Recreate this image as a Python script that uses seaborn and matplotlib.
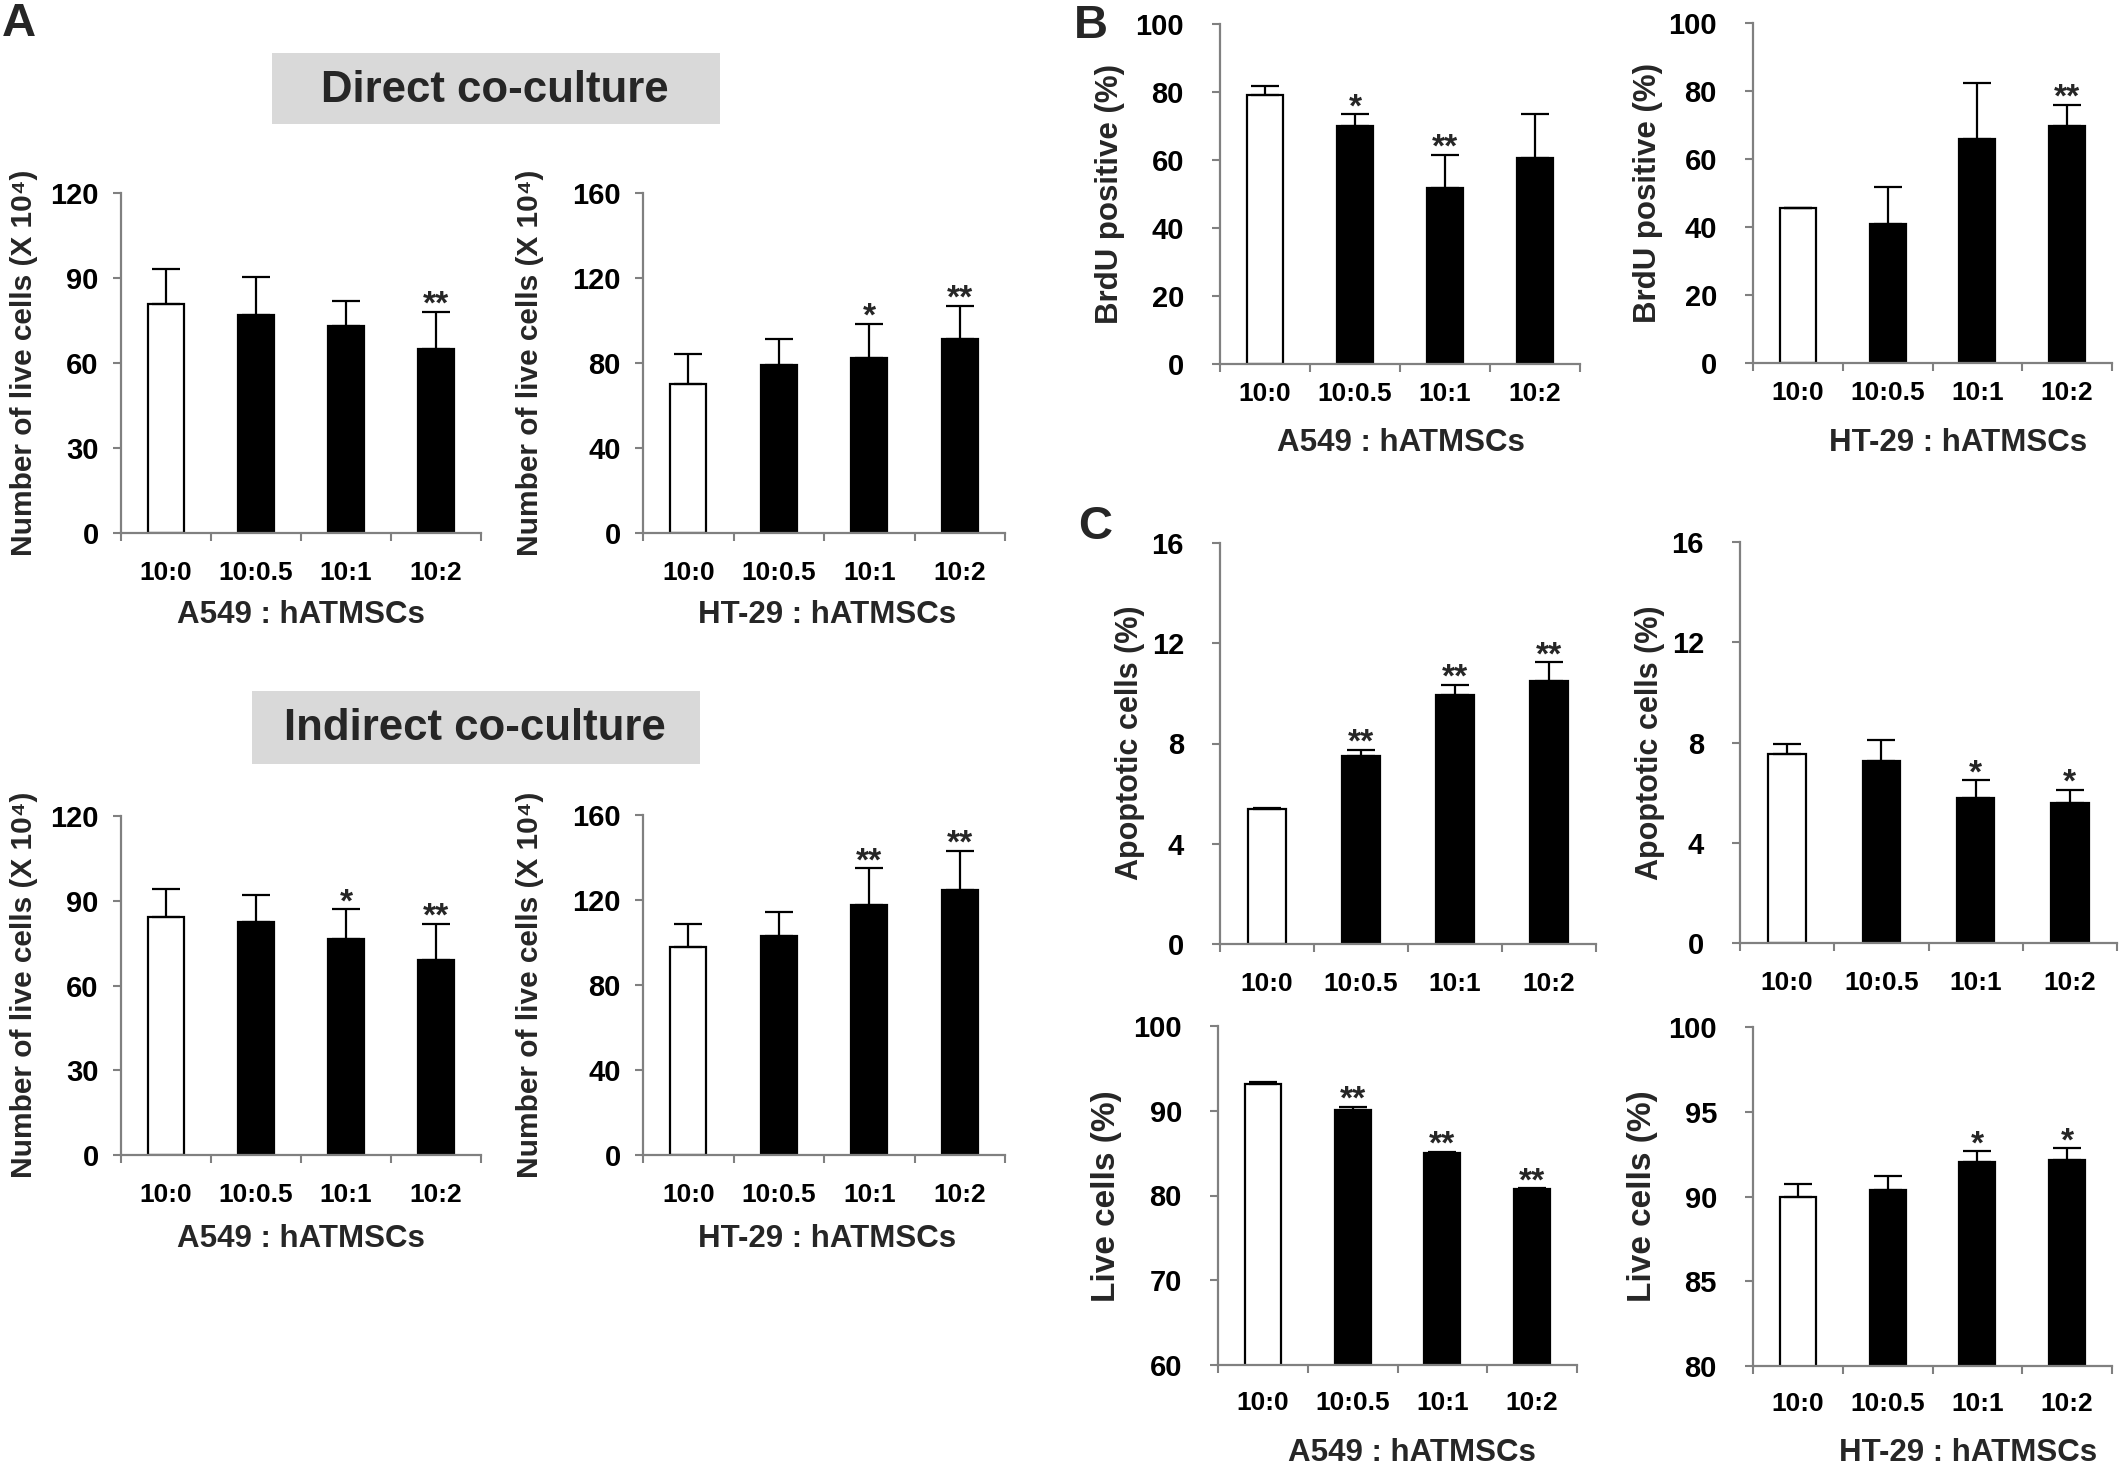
import numpy as np
import pandas as pd
import matplotlib
matplotlib.use("Agg")
import matplotlib.pyplot as plt
import seaborn as sns
from matplotlib import font_manager
from matplotlib.patches import Rectangle

# ---------------- data ----------------
ratios = ["10:0", "10:0.5", "10:1", "10:2"]

direct_a549 = [80.8, 76.9, 73.0, 64.9]
direct_a549_err = [12.3, 13.3, 8.8, 13.2]
direct_a549_sig = ["", "", "", "**"]

direct_ht29 = [70.2, 79.2, 82.5, 91.3]
direct_ht29_err = [14.2, 12.0, 16.0, 15.6]
direct_ht29_sig = ["", "", "*", "**"]

indirect_a549 = [84.4, 82.6, 76.5, 69.2]
indirect_a549_err = [9.6, 9.6, 10.5, 12.7]
indirect_a549_sig = ["", "", "*", "**"]

indirect_ht29 = [97.8, 103.2, 117.8, 124.7]
indirect_ht29_err = [11.0, 11.0, 17.2, 18.4]
indirect_ht29_sig = ["", "", "**", "**"]

brdu_a549 = [79.0, 70.1, 51.8, 60.5]
brdu_a549_err = [2.7, 3.4, 9.7, 13.1]
brdu_a549_sig = ["", "*", "**", ""]

brdu_ht29 = [45.6, 40.8, 65.9, 69.7]
brdu_ht29_err = [0.0, 10.9, 16.4, 6.3]
brdu_ht29_sig = ["", "", "", "**"]

apop_a549 = [5.38, 7.49, 9.95, 10.51]
apop_a549_err = [0.06, 0.27, 0.39, 0.73]
apop_a549_sig = ["", "**", "**", "**"]

apop_ht29 = [7.54, 7.26, 5.78, 5.59]
apop_ht29_err = [0.39, 0.85, 0.71, 0.52]
apop_ht29_sig = ["", "", "*", "*"]

live_a549 = [93.2, 90.14, 85.03, 80.75]
live_a549_err = [0.16, 0.31, 0.16, 0.11]
live_a549_sig = ["", "**", "**", "**"]

live_ht29 = [89.97, 90.38, 92.05, 92.13]
live_ht29_err = [0.79, 0.81, 0.63, 0.71]
live_ht29_sig = ["", "", "*", "*"]

# ---------------- style ----------------
sns.set_theme(style="white")
plt.rcParams["font.family"] = ["Liberation Sans", "DejaVu Sans"]
plt.rcParams["font.weight"] = "bold"

names = {f.name for f in font_manager.fontManager.ttflist}
if "Liberation Sans Narrow" in names:
    XT_FAMILY, XT_SIZE = ["Liberation Sans Narrow", "DejaVu Sans"], 21
else:
    XT_FAMILY, XT_SIZE = ["Liberation Sans", "DejaVu Sans"], 19

GRAY = "#808080"
W, H = 2123, 1468
fig = plt.figure(figsize=(W / 100, H / 100), dpi=100)
fig.patch.set_facecolor("white")

bar_colors = {r: ("white" if i == 0 else "black") for i, r in enumerate(ratios)}


def R(x0, x1, y_top, y_bot):
    return [x0 / W, 1 - y_bot / H, (x1 - x0) / W, (y_bot - y_top) / H]


def ftext(x, y, s, **kw):
    fig.text(x / W, 1 - y / H, s, **kw)


def draw(rect, vals, errs, sigs, ylim, step, ypad, xpad):
    ax = fig.add_axes(rect)
    df = pd.DataFrame({"ratio": ratios, "value": vals})
    sns.barplot(data=df, x="ratio", y="value", hue="ratio", palette=bar_colors,
                saturation=1, edgecolor="black", linewidth=1.6, width=0.4,
                legend=False, errorbar=None, ax=ax, zorder=2)
    x = np.arange(len(ratios))
    ax.errorbar(x, vals, yerr=[np.zeros(len(vals)), errs], fmt="none",
                ecolor="black", elinewidth=1.6, capsize=10, capthick=1.6, zorder=3)
    for i, s in enumerate(sigs):
        if s:
            ax.annotate(s, xy=(i, vals[i] + errs[i]), xytext=(0, -1.5),
                        textcoords="offset points", ha="center", va="baseline",
                        fontsize=24, fontweight="bold", zorder=4)
    ax.set_xlim(-0.5, len(ratios) - 0.5)
    ax.set_ylim(*ylim)
    ticks = np.arange(ylim[0], ylim[1] + step / 2, step)
    ax.set_yticks(ticks)
    ax.set_yticklabels([f"{v:g}" for v in ticks], fontsize=21, fontweight="bold")
    ax.set_xticks(x)
    ax.set_xticklabels(ratios, fontsize=XT_SIZE, fontweight="bold", family=XT_FAMILY)
    ax.set_xticks(np.arange(-0.5, len(ratios)), minor=True)
    ax.tick_params(axis="x", which="major", length=0, pad=xpad, colors="black")
    ax.tick_params(axis="x", which="minor", length=6, width=1.5, color=GRAY, direction="out", bottom=True)
    ax.tick_params(axis="y", which="major", length=6, width=1.5, color=GRAY, direction="out",
                   left=True, pad=ypad, labelcolor="black")
    ax.set_xlabel("")
    ax.set_ylabel("")
    for sp in ["top", "right"]:
        ax.spines[sp].set_visible(False)
    for sp in ["left", "bottom"]:
        ax.spines[sp].set_color(GRAY)
        ax.spines[sp].set_linewidth(1.6)
    ax.set_facecolor("white")
    ax.grid(False)
    return ax


# ---------------- panel A ----------------
ylab_a = "Number of live cells (X 10\u2074)"
draw(R(121, 481, 193, 533), direct_a549, direct_a549_err, direct_a549_sig, (0, 120), 30, 10, 20)
draw(R(643, 1005, 193, 533), direct_ht29, direct_ht29_err, direct_ht29_sig, (0, 160), 40, 10, 20)
draw(R(121, 481, 816, 1155), indirect_a549, indirect_a549_err, indirect_a549_sig, (0, 120), 30, 10, 20)
draw(R(643, 1005, 815, 1155), indirect_ht29, indirect_ht29_err, indirect_ht29_sig, (0, 160), 40, 10, 20)

for (x, y) in [(24, 363), (530, 363), (24, 985), (530, 985)]:
    ftext(x, y, ylab_a, rotation=90, ha="center", va="center", fontsize=21.5, fontweight="bold")
for (x, y, s) in [(301, 615, "A549 : hATMSCs"), (827, 615, "HT-29 : hATMSCs"),
                  (301, 1239, "A549 : hATMSCs"), (827, 1239, "HT-29 : hATMSCs")]:
    ftext(x, y, s, ha="center", va="center", fontsize=22.5, fontweight="bold")

for (x0, x1, y0, y1, tx, ty, s) in [(272, 720, 53, 124, 495, 90, "Direct co-culture"),
                                     (252, 700, 691, 764, 475, 729, "Indirect co-culture")]:
    fig.patches.append(Rectangle((x0 / W, 1 - y1 / H), (x1 - x0) / W, (y1 - y0) / H,
                                 transform=fig.transFigure, facecolor="#d9d9d9",
                                 edgecolor="none", zorder=0))
    ftext(tx, ty, s, ha="center", va="center", fontsize=31.5, fontweight="bold")

# ---------------- panel B ----------------
draw(R(1220, 1580, 24, 364), brdu_a549, brdu_a549_err, brdu_a549_sig, (0, 100), 20, 20, 13)
draw(R(1753, 2112, 23, 363), brdu_ht29, brdu_ht29_err, brdu_ht29_sig, (0, 100), 20, 20, 13)
for (x, y) in [(1110, 194), (1648, 193)]:
    ftext(x, y, "BrdU positive (%)", rotation=90, ha="center", va="center", fontsize=22.5, fontweight="bold")
ftext(1401, 443, "A549 : hATMSCs", ha="center", va="center", fontsize=22.5, fontweight="bold")
ftext(1958, 443, "HT-29 : hATMSCs", ha="center", va="center", fontsize=22.5, fontweight="bold")

# ---------------- panel C ----------------
draw(R(1220, 1596, 543, 944), apop_a549, apop_a549_err, apop_a549_sig, (0, 16), 4, 20, 20)
draw(R(1740, 2117, 542, 943), apop_ht29, apop_ht29_err, apop_ht29_sig, (0, 16), 4, 20, 20)
draw(R(1218, 1577, 1026, 1365), live_a549, live_a549_err, live_a549_sig, (60, 100), 10, 20, 19)
draw(R(1753, 2112, 1027, 1366), live_ht29, live_ht29_err, live_ht29_sig, (80, 100), 5, 20, 19)
for (x, y) in [(1130, 743), (1650, 743)]:
    ftext(x, y, "Apoptotic cells (%)", rotation=90, ha="center", va="center", fontsize=22, fontweight="bold")
for (x, y) in [(1107, 1196), (1642, 1196)]:
    ftext(x, y, "Live cells (%)", rotation=90, ha="center", va="center", fontsize=24, fontweight="bold")
ftext(1412, 1453, "A549 : hATMSCs", ha="center", va="center", fontsize=22.5, fontweight="bold")
ftext(1968, 1453, "HT-29 : hATMSCs", ha="center", va="center", fontsize=22.5, fontweight="bold")

# ---------------- panel letters ----------------
ftext(19, 24, "A", ha="center", va="center", fontsize=34, fontweight="bold")
ftext(1091, 26, "B", ha="center", va="center", fontsize=34, fontweight="bold")
ftext(1095, 527, "C", ha="center", va="center", fontsize=34, fontweight="bold")

fig.savefig("out.png", dpi=100, facecolor="white")
